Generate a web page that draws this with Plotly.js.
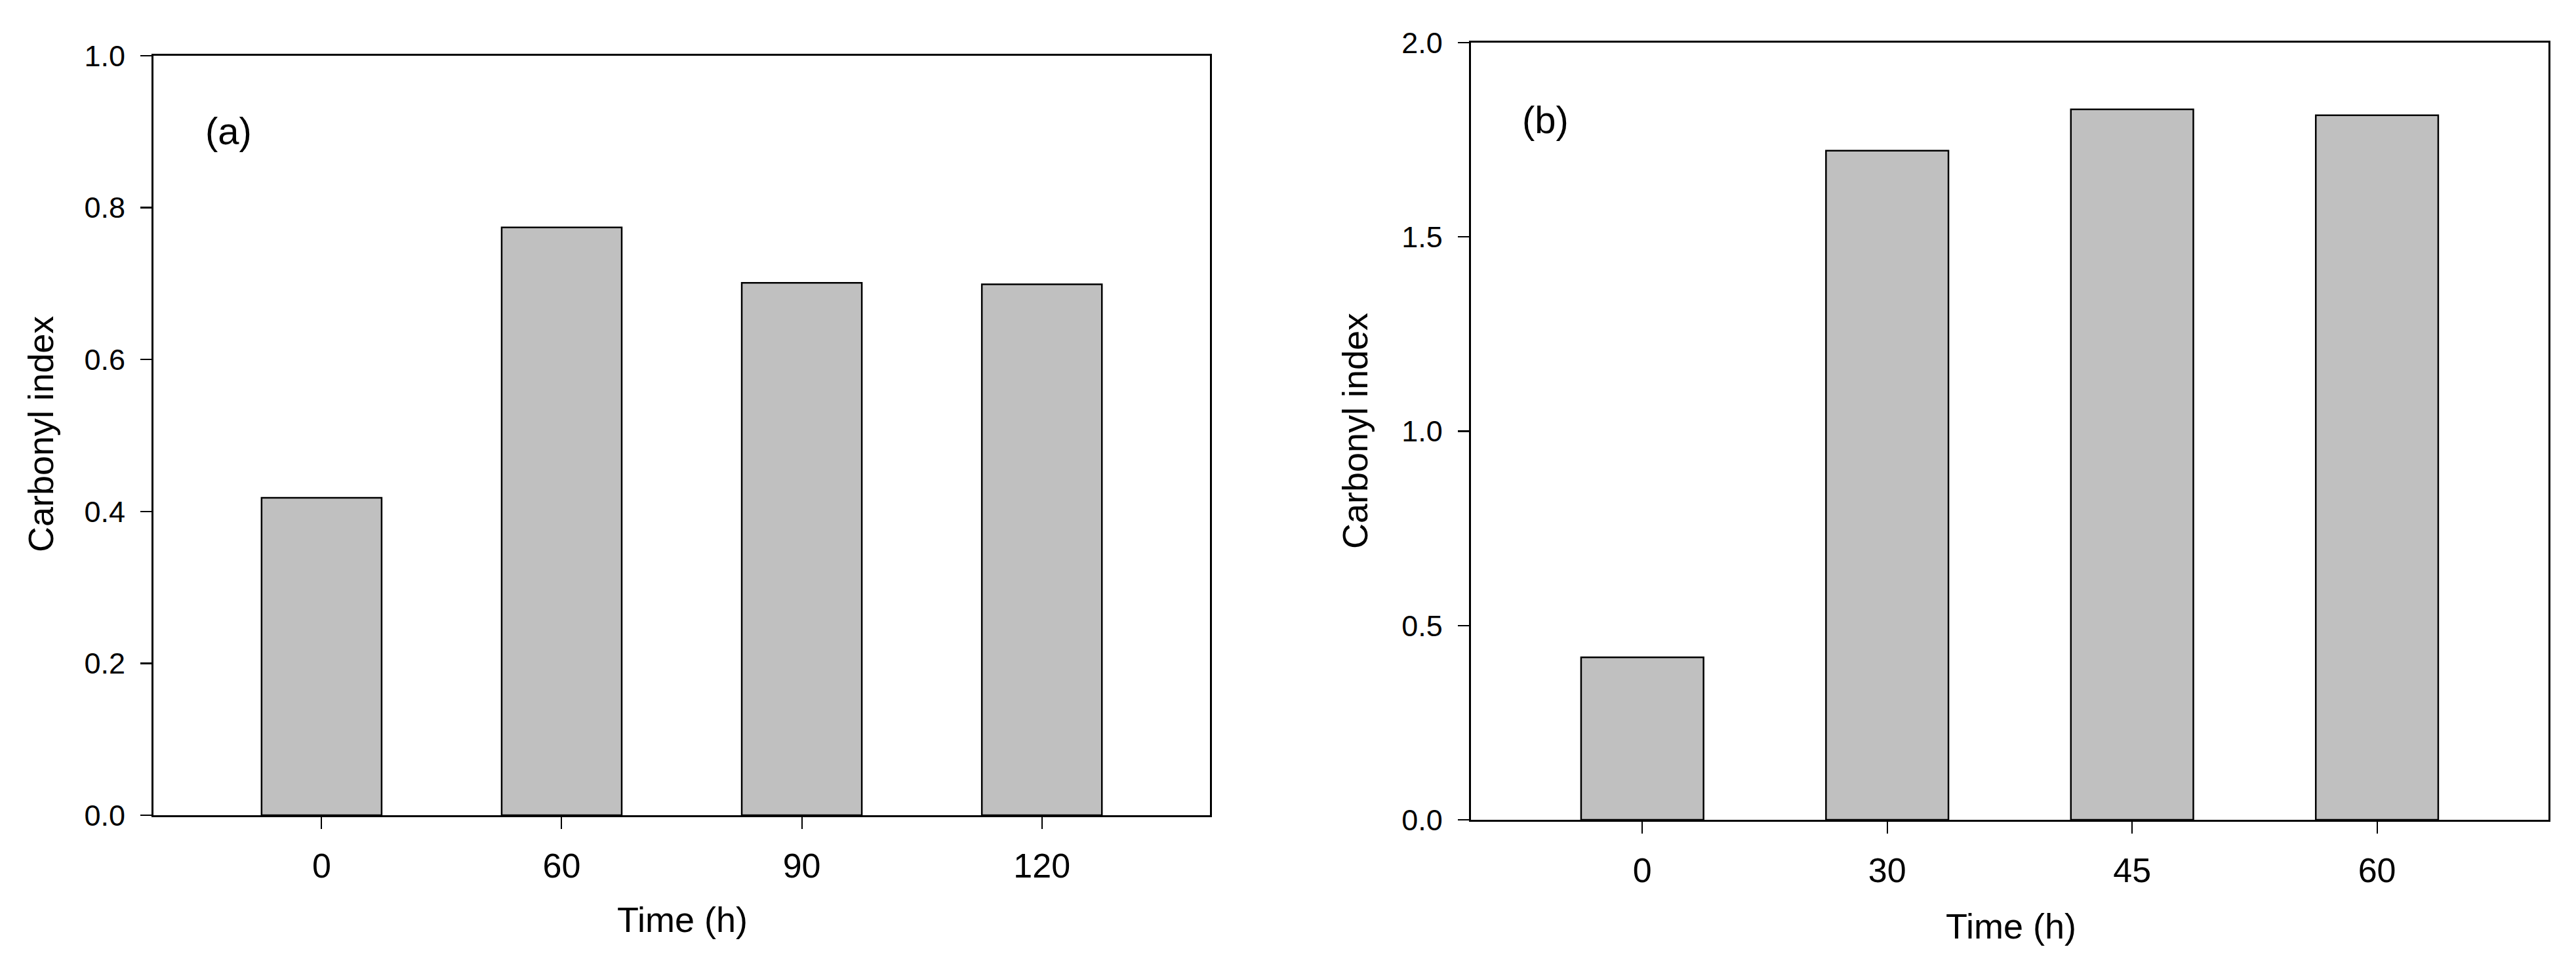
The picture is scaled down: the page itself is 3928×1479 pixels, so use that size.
<!DOCTYPE html>
<html>
<head>
<meta charset="utf-8">
<script src="https://cdn.plot.ly/plotly-3.0.1.min.js"></script>
<style>
  html, body { margin: 0; padding: 0; background: #fff; }
  #chart { width: 3928px; height: 1479px; }
</style>
</head>
<body>
<div id="chart"></div>
<script>
// panel (a)
var timesA = ['0', '60', '90', '120'];
var carbonylA = [0.418, 0.774, 0.701, 0.699];

// panel (b)
var timesB = ['0', '30', '45', '60'];
var carbonylB = [0.418, 1.722, 1.828, 1.813];

var barStyle = {
  color: '#c0c0c0',
  line: { color: '#000000', width: 2.5 }
};

var data = [
  {
    type: 'bar',
    x: timesA,
    y: carbonylA,
    width: 0.5,
    marker: barStyle,
    xaxis: 'x',
    yaxis: 'y',
    showlegend: false,
    hoverinfo: 'x+y'
  },
  {
    type: 'bar',
    x: timesB,
    y: carbonylB,
    width: 0.5,
    marker: barStyle,
    xaxis: 'x2',
    yaxis: 'y2',
    showlegend: false,
    hoverinfo: 'x+y'
  }
];

var font = 'Liberation Sans, Arial, sans-serif';

// shared axis looks
function xAxis(domain, anchor) {
  return {
    type: 'category',
    domain: domain,
    anchor: anchor,
    range: [-0.7, 3.7],
    showline: true,
    mirror: true,
    linecolor: '#000',
    linewidth: 3,
    ticks: 'outside',
    ticklen: 18,
    tickwidth: 2,
    tickcolor: '#000',
    ticklabelstandoff: 12,
    tickfont: { family: font, size: 52, color: '#000' },
    showgrid: false,
    zeroline: false,
    fixedrange: true
  };
}

function yAxis(domain, anchor, top, step) {
  return {
    domain: domain,
    anchor: anchor,
    range: [0, top],
    dtick: step,
    tick0: 0,
    tickformat: '.1f',
    showline: true,
    mirror: true,
    linecolor: '#000',
    linewidth: 3,
    ticks: 'outside',
    ticklen: 17,
    tickwidth: 2.5,
    tickcolor: '#000',
    ticklabelstandoff: 14,
    tickfont: { family: font, size: 45, color: '#000' },
    showgrid: false,
    zeroline: false,
    fixedrange: true
  };
}

function label(text, x, y, size, angle) {
  return {
    text: text,
    xref: 'paper',
    yref: 'paper',
    x: x,
    y: y,
    xanchor: 'center',
    yanchor: 'middle',
    showarrow: false,
    textangle: angle || 0,
    font: { family: font, size: size, color: '#000' }
  };
}

var layout = {
  width: 3928,
  height: 1479,
  margin: { l: 0, r: 0, t: 0, b: 0 },
  paper_bgcolor: '#ffffff',
  plot_bgcolor: '#ffffff',
  bargap: 0.5,
  xaxis: xAxis([0.0596, 0.4697], 'y'),
  yaxis: yAxis([0.1596, 0.9425], 'x', 1.0, 0.2),
  xaxis2: xAxis([0.5710, 0.9893], 'y2'),
  yaxis2: yAxis([0.1548, 0.9561], 'x2', 2.0, 0.5),
  annotations: [
    label('(a)', 0.0888, 0.8648, 58),
    label('(b)', 0.5998, 0.8769, 58),
    label('Carbonyl index', 0.01578, 0.5524, 54, -90),
    label('Carbonyl index', 0.5260, 0.5558, 54, -90),
    label('Time (h)', 0.2648, 0.0521, 54),
    label('Time (h)', 0.7806, 0.0453, 54)
  ]
};

Plotly.newPlot('chart', data, layout, { displayModeBar: false, staticPlot: true });
</script>
</body>
</html>
